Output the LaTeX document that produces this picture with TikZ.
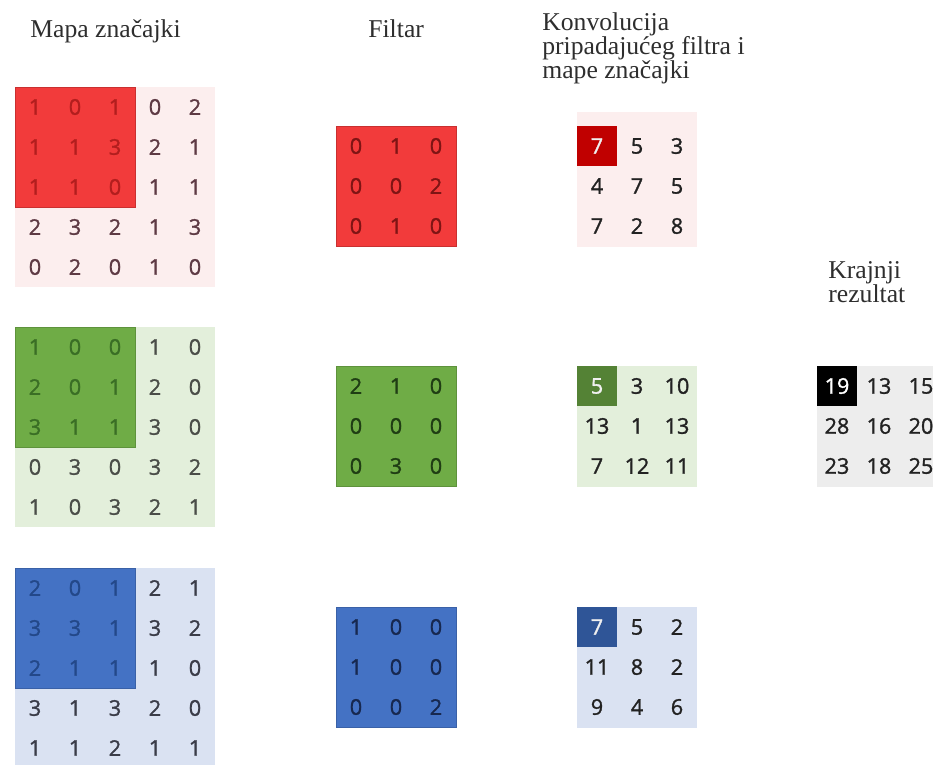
\documentclass[tikz,border=0pt]{standalone}
\usepackage{fontspec}
\setmainfont{Liberation Serif}
\setsansfont{Open Sans}
\newfontfamily\brojfont[FakeBold=1.3]{Open Sans}
\usepackage{xcolor}
\definecolor{crvena}{HTML}{F23B3B}
\definecolor{crvenarub}{HTML}{C93030}
\definecolor{crvenasv}{HTML}{FCEEEE}
\definecolor{crvenabroj}{HTML}{B21E1E}
\definecolor{crvenafilt}{HTML}{7E1414}
\definecolor{crvenasiva}{HTML}{5E3A44}
\definecolor{crvenakonv}{HTML}{C00000}
\definecolor{zelena}{HTML}{6FAC46}
\definecolor{zelenasv}{HTML}{E3EFDB}
\definecolor{zelenabroj}{HTML}{3A6E25}
\definecolor{zelenafilt}{HTML}{1F3D14}
\definecolor{zelenasiva}{HTML}{4A4D48}
\definecolor{zelenakonv}{HTML}{548235}
\definecolor{plava}{HTML}{4472C4}
\definecolor{plavasv}{HTML}{DAE2F2}
\definecolor{plavabroj}{HTML}{234889}
\definecolor{plavafilt}{HTML}{17284F}
\definecolor{plavasiva}{HTML}{3A3C48}
\definecolor{plavakonv}{HTML}{2F5597}
\definecolor{sivasv}{HTML}{EDEDED}
\definecolor{tekst}{HTML}{2E2E2E}
\definecolor{crnobroj}{HTML}{222222}
\definecolor{svijetlibroj}{HTML}{F0F0F0}
\usetikzlibrary{positioning}

\begin{document}
\begin{tikzpicture}[
  x=0.02cm, y=-0.02cm,
  naslov/.style={font=\fontsize{14.6}{13.8}\selectfont, text=tekst,
                 align=left, inner sep=0pt},
  broj/.style={font=\brojfont\fontsize{12.3}{13}\selectfont, inner sep=0pt},
  blok/.style={line width=0.5pt}
]
  \useasboundingbox (0,0) rectangle (933,764);
  \clip (0,0) rectangle (933,764);

  % naslovi
  \node[naslov, anchor=base west] (naslovMapa) at (30,37) {Mapa značajki};
  \node[naslov, anchor=base west] (naslovFiltar) at (368,37) {Filtar};
  \node[naslov, anchor=north west] (naslovKonv) at (542,12)
    {Konvolucija\\pripadajućeg filtra i\\mape značajki};
  \node[naslov, anchor=north west] (naslovRez) at (828,261)
    {Krajnji\\rezultat};

  % mape znacajki
  \fill[crvenasv] (15,87) rectangle (215,287);
  \filldraw[blok, fill=crvena, draw=crvenarub] (15,87) rectangle (135,207);
  \foreach \redak [count=\r] in {{1,0,1,0,2},{1,1,3,2,1},{1,1,0,1,1},{2,3,2,1,3},{0,2,0,1,0}}
    \foreach \v [count=\c] in \redak {
      \pgfmathtruncatemacro\unutra{(\r<4)&&(\c<4)}
      \ifnum\unutra=1 \def\boja{crvenabroj}\else\def\boja{crvenasiva}\fi
      \node[broj, text=\boja] (mc-\r-\c) at (40*\c-5,40*\r+67) {\v};
    }

  \fill[zelenasv] (15,327) rectangle (215,527);
  \filldraw[blok, fill=zelena, draw=zelena!85!black] (15,327) rectangle (135,447);
  \foreach \redak [count=\r] in {{1,0,0,1,0},{2,0,1,2,0},{3,1,1,3,0},{0,3,0,3,2},{1,0,3,2,1}}
    \foreach \v [count=\c] in \redak {
      \pgfmathtruncatemacro\unutra{(\r<4)&&(\c<4)}
      \ifnum\unutra=1 \def\boja{zelenabroj}\else\def\boja{zelenasiva}\fi
      \node[broj, text=\boja] (mz-\r-\c) at (40*\c-5,40*\r+307) {\v};
    }

  \fill[plavasv] (15,568) rectangle (215,768);
  \filldraw[blok, fill=plava, draw=plava!85!black] (15,568) rectangle (135,688);
  \foreach \redak [count=\r] in {{2,0,1,2,1},{3,3,1,3,2},{2,1,1,1,0},{3,1,3,2,0},{1,1,2,1,1}}
    \foreach \v [count=\c] in \redak {
      \pgfmathtruncatemacro\unutra{(\r<4)&&(\c<4)}
      \ifnum\unutra=1 \def\boja{plavabroj}\else\def\boja{plavasiva}\fi
      \node[broj, text=\boja] (mp-\r-\c) at (40*\c-5,40*\r+548) {\v};
    }

  % filtri
  \filldraw[blok, fill=crvena, draw=crvenarub] (336,126) rectangle (456,246);
  \foreach \redak [count=\r] in {{0,1,0},{0,0,2},{0,1,0}}
    \foreach \v [count=\c] in \redak
      \node[broj, text=crvenafilt] (fc-\r-\c) at (40*\c+316,40*\r+106) {\v};

  \filldraw[blok, fill=zelena, draw=zelena!85!black] (336,366) rectangle (456,486);
  \foreach \redak [count=\r] in {{2,1,0},{0,0,0},{0,3,0}}
    \foreach \v [count=\c] in \redak
      \node[broj, text=zelenafilt] (fz-\r-\c) at (40*\c+316,40*\r+346) {\v};

  \filldraw[blok, fill=plava, draw=plava!85!black] (336,607) rectangle (456,727);
  \foreach \redak [count=\r] in {{1,0,0},{1,0,0},{0,0,2}}
    \foreach \v [count=\c] in \redak
      \node[broj, text=plavafilt] (fp-\r-\c) at (40*\c+316,40*\r+587) {\v};

  % konvolucije
  \fill[crvenasv] (577,112) rectangle (697,247);
  \fill[crvenakonv] (577,126) rectangle (617,166);
  \foreach \redak [count=\r] in {{7,5,3},{4,7,5},{7,2,8}}
    \foreach \v [count=\c] in \redak {
      \pgfmathtruncatemacro\prvi{(\r==1)&&(\c==1)}
      \ifnum\prvi=1 \def\boja{svijetlibroj}\else\def\boja{crnobroj}\fi
      \node[broj, text=\boja] (kc-\r-\c) at (40*\c+557,40*\r+106) {\v};
    }

  \fill[zelenasv] (577,366) rectangle (697,487);
  \fill[zelenakonv] (577,366) rectangle (617,406);
  \foreach \redak [count=\r] in {{5,3,10},{13,1,13},{7,12,11}}
    \foreach \v [count=\c] in \redak {
      \pgfmathtruncatemacro\prvi{(\r==1)&&(\c==1)}
      \ifnum\prvi=1 \def\boja{svijetlibroj}\else\def\boja{crnobroj}\fi
      \node[broj, text=\boja] (kz-\r-\c) at (40*\c+557,40*\r+346) {\v};
    }

  \fill[plavasv] (577,607) rectangle (697,728);
  \fill[plavakonv] (577,607) rectangle (617,647);
  \foreach \redak [count=\r] in {{7,5,2},{11,8,2},{9,4,6}}
    \foreach \v [count=\c] in \redak {
      \pgfmathtruncatemacro\prvi{(\r==1)&&(\c==1)}
      \ifnum\prvi=1 \def\boja{svijetlibroj}\else\def\boja{crnobroj}\fi
      \node[broj, text=\boja] (kp-\r-\c) at (40*\c+557,40*\r+587) {\v};
    }

  % krajnji rezultat
  \fill[sivasv] (817,366) rectangle (945,487);
  \fill[black] (817,366) rectangle (857,406);
  \foreach \redak [count=\r] in {{19,13,15},{28,16,20},{23,18,25}}
    \foreach \v [count=\c] in \redak {
      \pgfmathtruncatemacro\prvi{(\r==1)&&(\c==1)}
      \ifnum\prvi=1 \def\boja{white}\else\def\boja{crnobroj}\fi
      \node[broj, text=\boja] (kr-\r-\c) at (42*\c+795,40*\r+346) {\v};
    }
\end{tikzpicture}
\end{document}
